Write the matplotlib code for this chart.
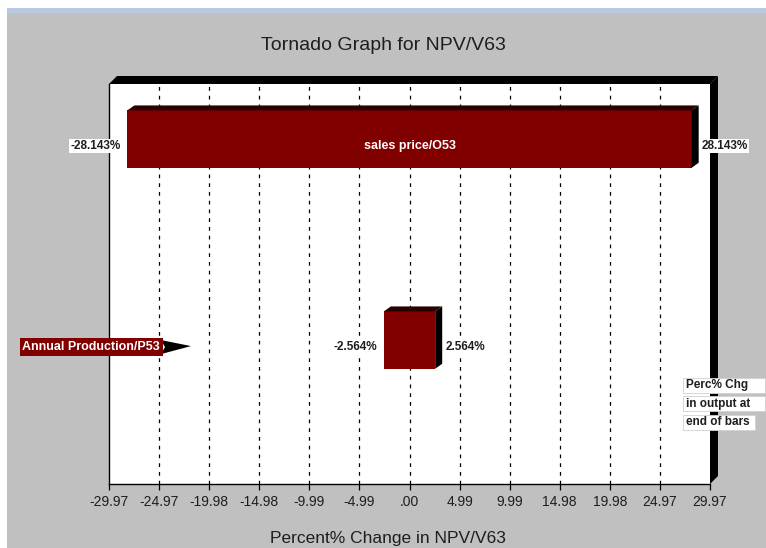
import matplotlib
matplotlib.use("Agg")
import matplotlib.pyplot as plt
from matplotlib.patches import Polygon, Rectangle
from matplotlib.transforms import IdentityTransform

# ---------------- data ----------------
categories = ["sales price/O53", "Annual Production/P53"]
low_pct = [-28.143, -2.564]
high_pct = [28.143, 2.564]
tick_values = [-29.97, -24.97, -19.98, -14.98, -9.99, -4.99, 0.0,
               4.99, 9.99, 14.98, 19.98, 24.97, 29.97]
tick_labels = ["-29.97", "-24.97", "-19.98", "-14.98", "-9.99", "-4.99", ".00",
               "4.99", "9.99", "14.98", "19.98", "24.97", "29.97"]
legend_lines = ["Perc% Chg", "in output at", "end of bars"]
title = "Tornado Graph for NPV/V63"
xlabel = "Percent% Change in NPV/V63"

# ---------------- style ----------------
W, H = 766, 548
BG = "#c0c0c0"
BAR = "#800000"
TXT = "#1e1e1e"
FONT = ["Liberation Sans", "DejaVu Sans"]
plt.rcParams["font.family"] = FONT

fig = plt.figure(figsize=(W / 100, H / 100), dpi=100, facecolor=BG)

# window chrome strips
fig.patches.append(Rectangle((0, 0), 7 / W, 1, transform=fig.transFigure,
                             facecolor="white", edgecolor="none", zorder=0))
fig.patches.append(Rectangle((0, 1 - 8 / H), 1, 8 / H, transform=fig.transFigure,
                             facecolor="white", edgecolor="none", zorder=0))
fig.patches.append(Rectangle((7 / W, 1 - 13 / H), 1, 5 / H, transform=fig.transFigure,
                             facecolor="#b8cae2", edgecolor="none", zorder=0))

ax = fig.add_axes([109 / W, (H - 484) / H, 601 / W, 400 / H])
ax.set_zorder(2)
ax.set_facecolor("white")
ax.set_xlim(tick_values[0], tick_values[-1])
ypos = list(range(len(categories)))
ax.set_ylim(1.716, -0.274)
bar_h = 0.285

widths = [h - l for l, h in zip(low_pct, high_pct)]
ax.barh(ypos, widths, left=low_pct, height=bar_h, color=BAR, zorder=3)

for t in tick_values[1:-1]:
    ax.axvline(t, color="black", lw=0.9, ls=(0, (3, 4)), zorder=1)

ax.set_yticks([])
ax.set_xticks(tick_values, tick_labels)
ax.tick_params(axis="x", direction="out", length=4.5, width=0.9, pad=3.5,
               labelsize=10, labelcolor=TXT, color="black")
for s in ("top", "right"):
    ax.spines[s].set_visible(False)
for s in ("left", "bottom"):
    ax.spines[s].set_color("black")
    ax.spines[s].set_linewidth(1.0)

# 3D faces of bars (pixel offsets)
dx, dy = 7, 5
for i in ypos:
    x0, yt = ax.transData.transform((low_pct[i], ypos[i] - bar_h / 2))
    x1, yb = ax.transData.transform((high_pct[i], ypos[i] + bar_h / 2))
    top = Polygon([(x0, yt), (x0 + dx, yt + dy), (x1 + dx, yt + dy), (x1, yt)],
                  closed=True, transform=IdentityTransform(), facecolor="#2a0000",
                  edgecolor="none", zorder=3, clip_on=False)
    side = Polygon([(x1, yt), (x1 + dx, yt + dy), (x1 + dx, yb + dy), (x1, yb)],
                   closed=True, transform=IdentityTransform(), facecolor="black",
                   edgecolor="none", zorder=3, clip_on=False)
    ax.add_artist(top)
    ax.add_artist(side)

    ax.annotate(f"{low_pct[i]:.3f}%", xy=(low_pct[i], ypos[i]), xytext=(-7, -7),
                textcoords="offset pixels", ha="right", va="center",
                fontsize=8.5, fontweight="bold", color=TXT,
                bbox=dict(fc="white", ec="none", pad=1.0),
                annotation_clip=False, zorder=6)
    ax.annotate(f"{high_pct[i]:.3f}%", xy=(high_pct[i], ypos[i]), xytext=(dx + 3, -7),
                textcoords="offset pixels", ha="left", va="center",
                fontsize=8.5, fontweight="bold", color=TXT,
                bbox=dict(fc="white", ec="none", pad=1.0),
                annotation_clip=False, zorder=6)

# category label for the big bar (inside the bar)
ax.annotate(categories[0], xy=((low_pct[0] + high_pct[0]) / 2, ypos[0]), xytext=(0, -7),
            textcoords="offset pixels", ha="center", va="center",
            fontsize=9, fontweight="bold", color="white", zorder=6)

# category label for the small bar (left of plot with arrow)
cy = ax.transData.transform((0, ypos[1]))[1] - 7
ax_left = ax.bbox.x0
lab_right = ax_left + 51
ax.text(lab_right, cy, categories[1], transform=IdentityTransform(),
        ha="right", va="center", fontsize=9, fontweight="bold", color="white",
        bbox=dict(fc=BAR, ec="none", pad=2.0), zorder=6, clip_on=False)
arrow = Polygon([(lab_right + 1, cy + 7), (lab_right + 31, cy + 1),
                 (lab_right + 1, cy - 7), (lab_right + 5, cy)],
                closed=True, transform=IdentityTransform(), facecolor="black",
                edgecolor="none", zorder=5, clip_on=False)
ax.add_artist(arrow)

# 3D frame: top strip and right wall
bx0, by0, bx1, by1 = ax.bbox.x0, ax.bbox.y0, ax.bbox.x1, ax.bbox.y1
d = 8
fig.add_artist(Polygon([(bx0, by1), (bx0 + d, by1 + d), (bx1 + d, by1 + d), (bx1, by1)],
                       closed=True, transform=IdentityTransform(), facecolor="black",
                       edgecolor="none", zorder=1))
fig.add_artist(Polygon([(bx1, by1), (bx1 + d, by1 + d), (bx1 + d, by0 + d), (bx1, by0)],
                       closed=True, transform=IdentityTransform(), facecolor="black",
                       edgecolor="none", zorder=1))

# legend note at right: white boxes behind each line
box_right = [765, 765, 755]
for k, line in enumerate(legend_lines):
    yc = 385 + 18.5 * k
    fig.add_artist(Rectangle((683, H - yc - 7.5), box_right[k] - 683, 15,
                             transform=IdentityTransform(), facecolor="white",
                             edgecolor="#d0d0d0", lw=0.6, zorder=4))
    fig.text(686 / W, 1 - yc / H, line, ha="left", va="center",
             fontsize=8.5, fontweight="bold", color=TXT, zorder=5)

fig.text(383 / W, 1 - 46 / H, title, ha="center", va="center", fontsize=14, color=TXT)
fig.text(388 / W, 1 - 539 / H, xlabel, ha="center", va="center", fontsize=12.5, color=TXT)

fig.savefig("out.png", dpi=100, facecolor=BG)
